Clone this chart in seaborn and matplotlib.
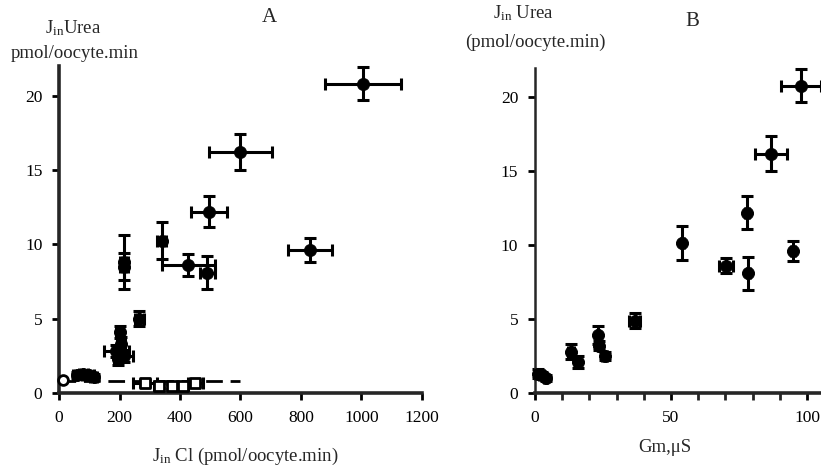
import matplotlib
matplotlib.use("Agg")
import matplotlib.pyplot as plt
import seaborn as sns
import pandas as pd

# panel A: urea influx vs chloride influx (filled = injected oocytes)
a_cl = [1005, 600, 495, 340, 215, 215, 427, 490, 830, 265, 200, 205, 190, 215, 195, 60, 80, 100, 115]
a_urea = [20.8, 16.2, 12.2, 10.25, 8.8, 8.5, 8.6, 8.1, 9.6, 5.0, 4.1, 3.3, 2.8, 2.5, 2.3, 1.2, 1.3, 1.2, 1.1]
a_cl_err = [125, 105, 60, 15, 12, 12, 88, 25, 72, 15, 12, 12, 40, 30, 12, 15, 15, 15, 12]
a_urea_err = [1.1, 1.2, 1.05, 1.25, 1.8, 0.9, 0.75, 1.1, 0.8, 0.5, 0.4, 0.5, 0.4, 0.4, 0.4, 0.2, 0.2, 0.2, 0.2]

# panel A: control oocytes (open symbols) and their fit line
ctrl_circle_cl = [13]
ctrl_circle_urea = [0.85]
ctrl_cl = [285, 330, 375, 410, 450]
ctrl_urea = [0.7, 0.5, 0.45, 0.5, 0.7]
ctrl_cl_err = [40, 15, 15, 15, 25]
ctrl_urea_err = [0.2, 0.15, 0.15, 0.15, 0.2]
fit_cl = [0, 600]
fit_urea = [0.82, 0.82]

# panel B: urea influx vs membrane conductance
b_gm = [97.8, 86.8, 78, 54.2, 70.3, 78.4, 94.9, 36.6, 23.2, 23.5, 25.6, 13.2, 15.7, 1, 2.5, 4]
b_urea = [20.8, 16.2, 12.2, 10.15, 8.6, 8.1, 9.6, 4.9, 3.9, 3.2, 2.5, 2.8, 2.1, 1.3, 1.2, 1.0]
b_gm_err = [7.5, 6, 0.8, 0.5, 2.5, 0.5, 0.8, 2, 0.5, 0.5, 1, 1, 1, 1, 1, 0.5]
b_urea_err = [1.1, 1.2, 1.1, 1.15, 0.5, 1.1, 0.7, 0.5, 0.6, 0.3, 0.3, 0.5, 0.4, 0.3, 0.2, 0.2]

sns.set_style("ticks")
plt.rcParams["font.family"] = ["Liberation Serif", "DejaVu Serif"]
plt.rcParams["mathtext.fontset"] = "custom"
plt.rcParams["mathtext.rm"] = "Liberation Serif"
plt.rcParams["mathtext.it"] = "Liberation Serif"

fig = plt.figure(figsize=(8.21, 4.70), dpi=100)
axA = fig.add_axes([0.0719, 0.1638, 0.442, 0.696])
axB = fig.add_axes([0.6516, 0.1638, 0.348, 0.692])

dfA = pd.DataFrame({"cl": a_cl, "urea": a_urea})
dfC = pd.DataFrame({"cl": ctrl_cl, "urea": ctrl_urea})
dfB = pd.DataFrame({"gm": b_gm, "urea": b_urea})

eb = dict(fmt="none", ecolor="black", elinewidth=2.2, capsize=4.5, capthick=2.2, zorder=2)

# panel A
axA.plot(fit_cl, fit_urea, color="black", lw=2, dashes=(6, 2.8), zorder=1)
axA.errorbar(a_cl, a_urea, xerr=a_cl_err, yerr=a_urea_err, **eb)
axA.errorbar(ctrl_cl, ctrl_urea, xerr=ctrl_cl_err, yerr=ctrl_urea_err, **eb)
sns.scatterplot(data=dfA, x="cl", y="urea", ax=axA, color="black", s=75,
                edgecolor="black", zorder=3, legend=False)
sns.scatterplot(data=dfC, x="cl", y="urea", ax=axA, marker="s", s=55,
                color="white", edgecolor="black", linewidth=2, zorder=3, legend=False)
axA.scatter(ctrl_circle_cl, ctrl_circle_urea, s=50, facecolor="white",
            edgecolor="black", linewidth=2, zorder=3)

axA.set_xlim(0, 1200)
axA.set_ylim(0, 22)
axA.set_xticks(range(0, 1201, 200))
axA.set_yticks([0, 5, 10, 15, 20])
axA.set_xlabel("")
axA.set_ylabel("")

# panel B
axB.errorbar(b_gm, b_urea, xerr=b_gm_err, yerr=b_urea_err, **eb)
sns.scatterplot(data=dfB, x="gm", y="urea", ax=axB, color="black", s=75,
                edgecolor="black", zorder=3, legend=False)
axB.set_xlim(0, 105)
axB.set_ylim(0, 22)
axB.set_xticks([0, 50, 100])
axB.set_xticks(range(0, 101, 10), minor=True)
axB.set_yticks([0, 5, 10, 15, 20])
axB.set_xlabel("")
axB.set_ylabel("")

for ax, lw in ((axA, 2.6), (axB, 1.8)):
    sns.despine(ax=ax)
    ax.spines["left"].set_linewidth(lw)
    ax.spines["bottom"].set_linewidth(2.6)
    ax.tick_params(axis="both", which="major", direction="out", length=5, width=2,
                   labelsize=12.5, colors="black", pad=7)
    ax.tick_params(axis="x", which="minor", direction="out", length=5, width=2)
    ax.set_facecolor("white")
    ax.patch.set_alpha(0)
    for c in ax.collections + ax.lines:
        c.set_clip_on(False)

# panel letters and axis labels
fig.text(269 / 821, 1 - 18 / 470, "A", ha="center", va="center", fontsize=15)
fig.text(692 / 821, 1 - 22 / 470, "B", ha="center", va="center", fontsize=15)

fig.text(73 / 821, 1 - 28 / 470, r"J$_{\rm in}$Urea", ha="center", va="center", fontsize=13.5)
fig.text(75 / 821, 1 - 53 / 470, "pmol/oocyte.min", ha="center", va="center", fontsize=13.5)
fig.text(523 / 821, 1 - 13 / 470, r"J$_{\rm in}$ Urea", ha="center", va="center", fontsize=13.5)
fig.text(535 / 821, 1 - 42 / 470, "(pmol/oocyte.min)", ha="center", va="center", fontsize=13.5)

fig.text(245 / 821, 1 - 456 / 470, r"J$_{\rm in}$ Cl (pmol/oocyte.min)", ha="center",
         va="center", fontsize=13.5)
fig.text(665 / 821, 1 - 447 / 470, "Gm,\u03bcS", ha="center", va="center", fontsize=13.5)

fig.savefig("out.png", dpi=100, facecolor="white")
plt.close(fig)
